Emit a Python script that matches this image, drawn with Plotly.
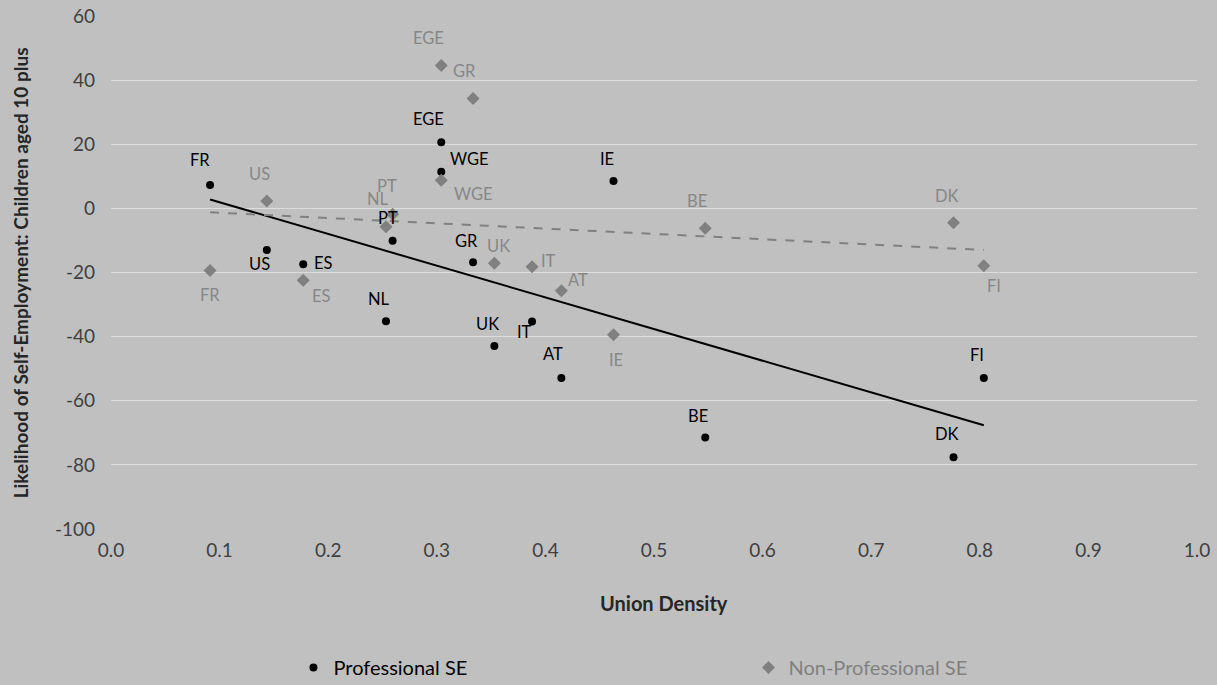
import numpy as np
import plotly.graph_objects as go

countries = ["FR", "US", "ES", "NL", "PT", "EGE", "WGE", "GR", "UK", "IT", "AT", "IE", "BE", "DK", "FI"]
union_density = [0.0912, 0.1435, 0.177, 0.2532, 0.2593, 0.3041, 0.3041, 0.3334, 0.353, 0.3877, 0.4147,
                 0.4627, 0.5472, 0.7758, 0.8037]
professional_se = [7.3, -13.0, -17.4, -35.2, -10.1, 20.6, 11.4, -16.8, -42.9, -35.3, -52.9, 8.5, -71.5, -77.6, -52.9]
non_professional_se = [-19.4, 2.3, -22.4, -5.7, -1.8, 44.6, 8.8, 34.3, -17.1, -18.2, -25.7, -39.4, -6.2, -4.5, -17.9]

y_tick_vals = [60, 40, 20, 0, -20, -40, -60, -80, -100]
y_tick_text = ["60", "40", "20", "0", "-20", "-40", "-60", "-80", "-100"]

# label offsets (pixels, dx right / dy down) of each label centre from its point
pro_label_dx = [-10, -7, 20, -7, -5, -13, 28, -7, -7, -8, -8, -6, -7, -7, -7]
pro_label_dy = [-25, 14, -1, -22, -23, -23, -13, -21, -22, 10, -24, -22, -22, -23, -23]
nonpro_label_dx = [0, -7, 18, -8, -6, -13, 32, -9, 4, 16, 17, 3, -8, -7, 10]
nonpro_label_dy = [24, -27, 16, -28, -28, -27, 14, -27, -17, -6, -11, 25, -27, -27, 20]

FONT = "Lato, 'Open Sans', sans-serif"
BG = "#C0C0C0"
GRAY = "#808080"
LABEL_GRAY = "#878787"

x = np.array(union_density)
xr = np.array([x.min(), x.max()])
p_fit = np.polyfit(x, np.array(professional_se), 1)
n_fit = np.polyfit(x, np.array(non_professional_se), 1)

fig = go.Figure()

fig.add_trace(go.Scatter(x=union_density, y=professional_se, mode="markers", name="Professional SE",
                         marker=dict(symbol="circle", size=8, color="black"), legend="legend"))
fig.add_trace(go.Scatter(x=union_density, y=non_professional_se, mode="markers", name="Non-Professional SE",
                         marker=dict(symbol="diamond", size=10, color=GRAY), legend="legend2"))

# linear trendlines
fig.add_trace(go.Scatter(x=xr, y=np.polyval(p_fit, xr), mode="lines",
                         line=dict(color="black", width=2), showlegend=False, hoverinfo="skip"))
fig.add_trace(go.Scatter(x=xr, y=np.polyval(n_fit, xr), mode="lines",
                         line=dict(color=GRAY, width=2, dash="dash"), showlegend=False, hoverinfo="skip"))

annotations = []
for c, xv, yv, dx, dy in zip(countries, union_density, professional_se, pro_label_dx, pro_label_dy):
    annotations.append(dict(x=xv, y=yv, xref="x", yref="y", text=c, showarrow=False,
                            xshift=dx, yshift=-dy, xanchor="center", yanchor="middle",
                            font=dict(family=FONT, size=16.5, color="black")))
for c, xv, yv, dx, dy in zip(countries, union_density, non_professional_se, nonpro_label_dx, nonpro_label_dy):
    annotations.append(dict(x=xv, y=yv, xref="x", yref="y", text=c, showarrow=False,
                            xshift=dx, yshift=-dy, xanchor="center", yanchor="middle",
                            font=dict(family=FONT, size=16.5, color=LABEL_GRAY)))

# axis titles
annotations.append(dict(x=0.509, y=-0.1435, xref="paper", yref="paper", text="<b>Union Density</b>",
                        showarrow=False, xanchor="center", yanchor="middle",
                        font=dict(family=FONT, size=20, color="#262626")))
annotations.append(dict(x=-0.083, y=0.5, xref="paper", yref="paper",
                        text="<b>Likelihood of Self-Employment: Children aged 10 plus</b>",
                        showarrow=False, xanchor="center", yanchor="middle", textangle=-90,
                        font=dict(family=FONT, size=19, color="#262626")))

fig.update_layout(
    width=1217, height=685,
    margin=dict(l=111, r=20, t=16, b=156, autoexpand=False),
    paper_bgcolor=BG, plot_bgcolor=BG,
    font=dict(family=FONT, size=19, color="#404040"),
    showlegend=True,
    annotations=annotations,
    legend=dict(orientation="h", x=0.168, xanchor="left", y=-0.270, yanchor="middle",
                itemwidth=30, font=dict(family=FONT, size=20, color="black"),
                bgcolor="rgba(0,0,0,0)"),
    legend2=dict(orientation="h", x=0.587, xanchor="left", y=-0.270, yanchor="middle",
                 itemwidth=30, font=dict(family=FONT, size=20, color=GRAY),
                 bgcolor="rgba(0,0,0,0)"),
    xaxis=dict(range=[0, 1.0], dtick=0.1, tick0=0, tickformat=".1f", showgrid=False,
               zeroline=False, showline=False, ticks="", ticklabelstandoff=8,
               tickfont=dict(size=19, color="#404040"), automargin=False),
    yaxis=dict(range=[-100, 60], tickvals=y_tick_vals, ticktext=y_tick_text,
               showgrid=True, gridcolor="#DDDDDD", gridwidth=1,
               zeroline=False, showline=False, ticks="", ticklabelstandoff=15,
               tickfont=dict(size=19, color="#404040"), automargin=False),
)

fig.write_html("out.html", config={"displayModeBar": False},
               post_script="document.body.style.margin='0';document.body.style.background='#C0C0C0';")
